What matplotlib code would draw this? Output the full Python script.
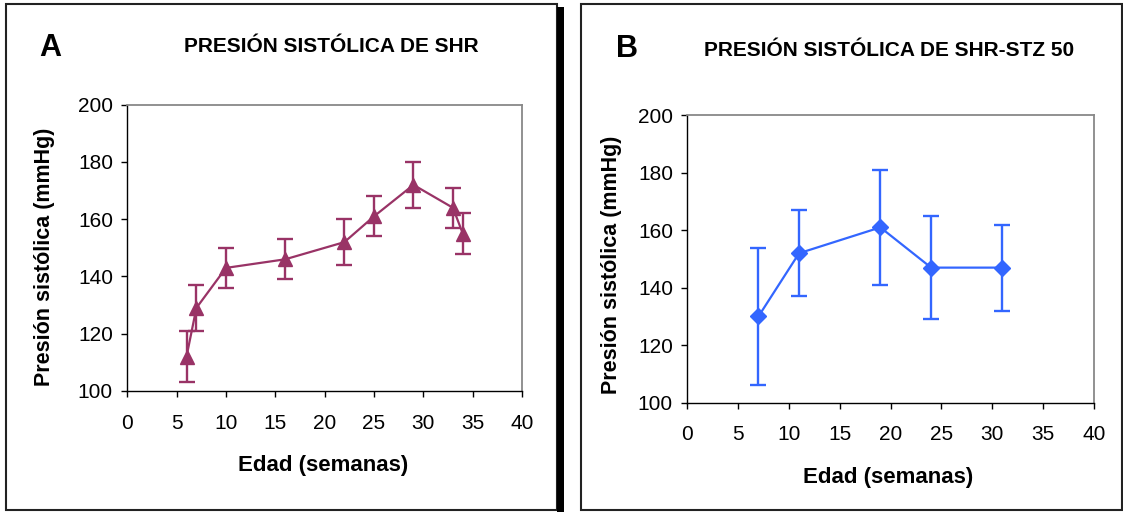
import matplotlib
matplotlib.use("Agg")
import matplotlib.pyplot as plt
from matplotlib.patches import Rectangle

plt.rcParams['font.family'] = ['Liberation Sans', 'DejaVu Sans']

# Panel A data (SHR)
weeks_a = [6, 7, 10, 16, 22, 25, 29, 33, 34]
pres_a = [112, 129, 143, 146, 152, 161, 172, 164, 155]
err_a = [9, 8, 7, 7, 8, 7, 8, 7, 7]

# Panel B data (SHR-STZ 50)
weeks_b = [7, 11, 19, 24, 31]
pres_b = [130, 152, 161, 147, 147]
err_b = [24, 15, 20, 18, 15]

title_a = "PRESIÓN SISTÓLICA DE SHR"
title_b = "PRESIÓN SISTÓLICA DE SHR-STZ 50"
xlabel = "Edad (semanas)"
ylabel = "Presión sistólica (mmHg)"
xticks = [0, 5, 10, 15, 20, 25, 30, 35, 40]
yticks = [100, 120, 140, 160, 180, 200]

W, H = 1123, 512
fig = plt.figure(figsize=(W / 100, H / 100), dpi=100)

def fx(px):
    return px / W

def fy(py):
    return 1 - py / H

# panel borders
fig.patches.append(Rectangle((fx(6), fy(510)), fx(557) - fx(6), fy(4) - fy(510),
                             transform=fig.transFigure, fill=False, ec='#222222', lw=1.5))
fig.patches.append(Rectangle((fx(557), fy(512)), fx(564) - fx(557), fy(7) - fy(512),
                             transform=fig.transFigure, fill=True, fc='black', ec='none'))
fig.patches.append(Rectangle((fx(581), fy(510)), fx(1121.5) - fx(581), fy(4) - fy(510),
                             transform=fig.transFigure, fill=False, ec='#222222', lw=1.5))

def make_axes(rect_px, x, y, e, color, marker, ms):
    l, t, r, b = rect_px
    ax = fig.add_axes([fx(l), fy(b), fx(r) - fx(l), fy(t) - fy(b)])
    ax.errorbar(x, y, yerr=e, color=color, lw=1.6, marker=marker, ms=ms,
                elinewidth=1.7, capsize=5.5, capthick=1.7, clip_on=False)
    ax.set_xlim(0, 40)
    ax.set_ylim(100, 200)
    ax.set_xticks(xticks)
    ax.set_yticks(yticks)
    ax.tick_params(direction='out', length=4.3, width=1, labelsize=15)
    ax.tick_params(axis='x', pad=12)
    ax.tick_params(axis='y', pad=6)
    for s in ['top', 'right']:
        ax.spines[s].set_color('#888888')
        ax.spines[s].set_linewidth(1.3)
    for s in ['left', 'bottom']:
        ax.spines[s].set_color('black')
        ax.spines[s].set_linewidth(1.0)
    return ax

make_axes((127.3, 104.7, 522, 391), weeks_a, pres_a, err_a, '#993366', '^', 10.5)
make_axes((687.3, 115.3, 1093.7, 402.7), weeks_b, pres_b, err_b, '#3366FF', 'D', 8)

# texts panel A
fig.text(fx(50), fy(48), "A", fontsize=22, fontweight='bold', ha='center', va='center')
fig.text(fx(331), fy(47), title_a, fontsize=15, fontweight='bold', ha='center', va='center')
fig.text(fx(45), fy(257), ylabel, fontsize=15.5, fontweight='bold', ha='center', va='center', rotation=90)
fig.text(fx(323.5), fy(465), xlabel, fontsize=16, fontweight='bold', ha='center', va='center')

# texts panel B
fig.text(fx(627), fy(49), "B", fontsize=22, fontweight='bold', ha='center', va='center')
fig.text(fx(889), fy(50), title_b, fontsize=15, fontweight='bold', ha='center', va='center')
fig.text(fx(612), fy(265), ylabel, fontsize=15.5, fontweight='bold', ha='center', va='center', rotation=90)
fig.text(fx(888), fy(477), xlabel, fontsize=16, fontweight='bold', ha='center', va='center')

fig.savefig("out.png", dpi=100)
